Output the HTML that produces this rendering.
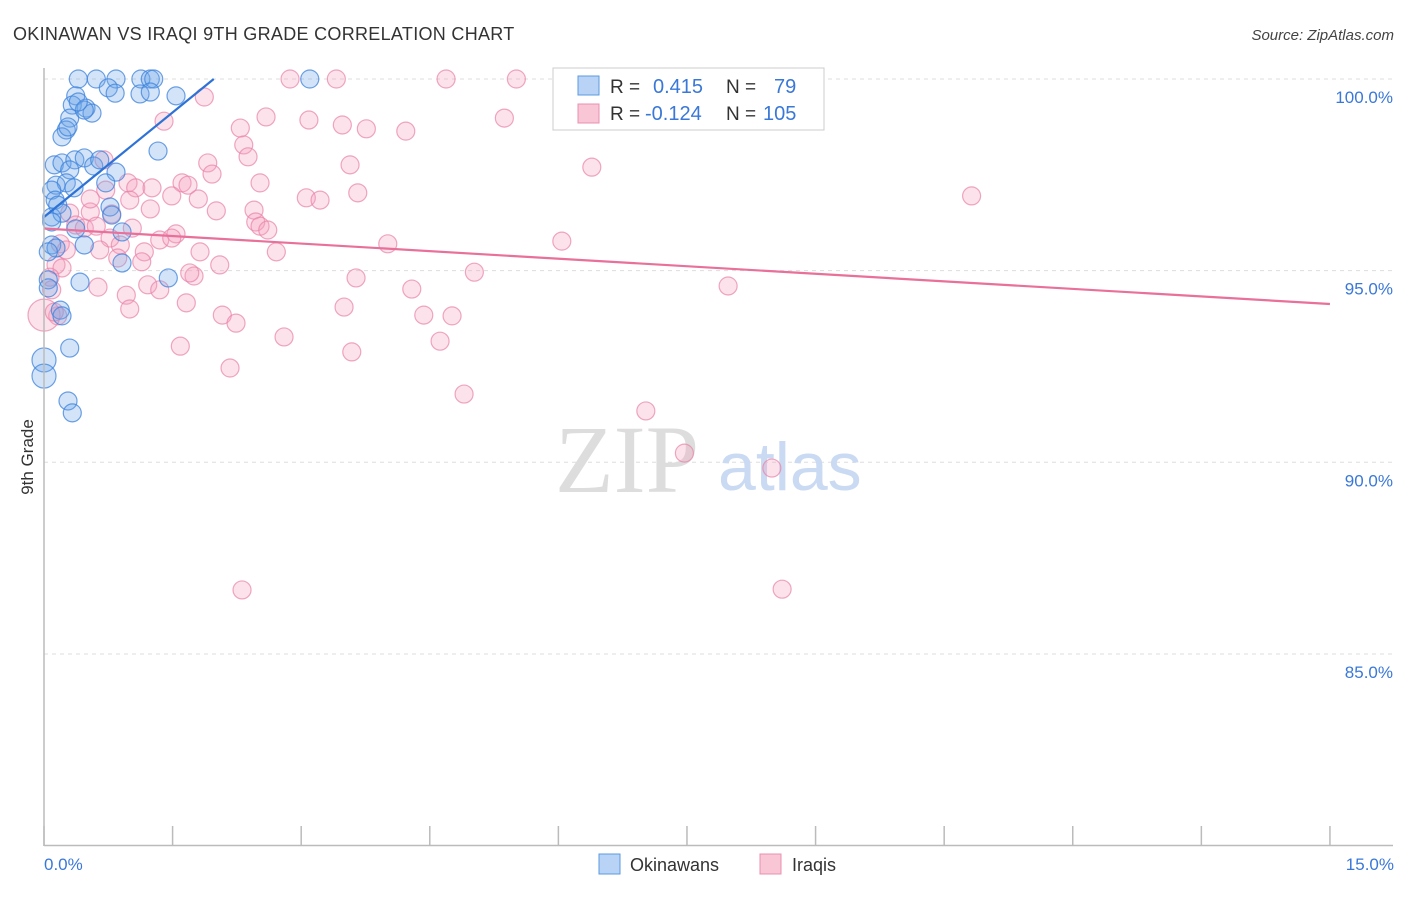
<!DOCTYPE html>
<html><head><meta charset="utf-8"><style>
body{margin:0;background:#fff;font-family:"Liberation Sans",sans-serif;}
</style></head><body>
<svg id="chart" width="1406" height="892" xmlns="http://www.w3.org/2000/svg" font-family="Liberation Sans, sans-serif">
<text x="13" y="40" font-size="18" fill="#333" letter-spacing="0.3">OKINAWAN VS IRAQI 9TH GRADE CORRELATION CHART</text>
<text x="1394" y="40" font-size="15" fill="#444" text-anchor="end" font-style="italic">Source: ZipAtlas.com</text>
<g id="grid"></g>
<text x="555" y="492" font-size="96" fill="#ddd" font-family="Liberation Serif, serif">ZIP</text>
<text x="718" y="490" font-size="68" fill="#c9daf2">atlas</text>
<g id="pts"></g>
<g id="lines"></g>
<line x1="44" y1="68" x2="44" y2="846" stroke="#bbb" stroke-width="1.5"/>
<line x1="44" y1="845.5" x2="1393" y2="845.5" stroke="#bbb" stroke-width="1.5"/>
<g id="ticks"></g>
<text transform="translate(33,457) rotate(-90)" font-size="17" fill="#333" text-anchor="middle">9th Grade</text>
<text x="44" y="870" font-size="17" fill="#3a78d8">0.0%</text>
<text x="1394" y="870" font-size="17" fill="#3a78d8" text-anchor="end">15.0%</text>
<g>
<rect x="553" y="68" width="271" height="62" fill="#fff" stroke="#ccc"/>
<rect x="578" y="76" width="21" height="19" fill="#b8d3f5" stroke="#5b9be0"/>
<rect x="578" y="104" width="21" height="19" fill="#f9c6d6" stroke="#e890b0"/>
<text x="610" y="93" font-size="19" fill="#333">R =</text><text x="653" y="93" font-size="20" fill="#3a78d8">0.415</text>
<text x="726" y="93" font-size="19" fill="#333">N =</text><text x="774" y="93" font-size="20" fill="#3a78d8">79</text>
<text x="610" y="120" font-size="19" fill="#333">R =</text><text x="645" y="120" font-size="20" fill="#3a78d8">-0.124</text>
<text x="726" y="120" font-size="19" fill="#333">N =</text><text x="763" y="120" font-size="20" fill="#3a78d8">105</text>
</g>
<g><rect x="599" y="854" width="21" height="20" fill="#b8d3f5" stroke="#5b9be0"/><text x="630" y="871" font-size="18" fill="#333">Okinawans</text></g>
<g><rect x="760" y="854" width="21" height="20" fill="#f9c6d6" stroke="#e890b0"/><text x="792" y="871" font-size="18" fill="#333">Iraqis</text></g>
</svg>
<script>
const yTicks=[100,95,90,85];
const yTickLabels=["100.0%","95.0%","90.0%","85.0%"];
const xTicks=[0,1.5,3,4.5,6,7.5,9,10.5,12,13.5,15];
const blueX=[0.40,0.61,0.84,1.13,1.24,1.28,3.10,0.75,0.83,1.12,1.24,1.54,0.37,0.33,0.49,0.56,0.30,0.26,0.21,0.28,1.33,0.12,0.21,0.36,0.47,0.30,0.58,0.84,0.14,0.26,0.09,0.72,0.35,0.13,0.16,0.09,0.21,0.77,0.79,0.09,0.37,0.91,0.09,0.14,0.47,0.05,0.91,1.45,0.42,0.05,0.05,0.19,0.21,0.30,0,0,0.28,0.33,0.47,0.40,0.65];
const blueY=[100,100,100,100,100,100,100,99.77,99.63,99.61,99.66,99.56,99.56,99.32,99.24,99.11,98.98,98.67,98.49,98.75,98.12,97.76,97.81,97.89,97.94,97.63,97.73,97.57,97.23,97.29,97.10,97.29,97.16,96.84,96.71,96.40,96.50,96.66,96.45,96.27,96.09,96.01,95.67,95.59,95.67,95.49,95.20,94.81,94.70,94.76,94.55,93.97,93.82,92.98,92.67,92.25,91.60,91.29,99.19,99.40,97.89];
const pinkX=[2.87,3.41,4.69,5.51,1.87,2.59,1.40,3.09,3.48,3.76,4.22,5.37,2.29,2.33,2.38,6.39,1.91,1.96,3.57,0.70,0.98,1.07,1.26,1.61,1.68,2.52,3.66,1.80,1.49,3.06,3.22,10.82,1.24,2.01,2.45,2.47,2.52,2.61,0.79,0.54,0.30,0.37,1.03,1.35,1.54,1.49,0.77,0.89,0.65,4.01,6.04,2.71,1.82,1.17,0.86,1.14,2.05,0.14,0.21,0.07,5.02,1.75,1.70,3.64,1.21,1.35,0.63,0.96,4.29,7.98,1.66,1.00,3.50,4.43,4.76,2.08,2.24,0.16,2.80,4.62,1.59,3.59,2.17,4.90,7.02,7.47,8.49,2.31,8.61,0,0.12,0.09,0.19,0.26,0.47,0.61,0.72,0.54,1.00];
const pinkY=[100,100,100,100,99.53,99.01,98.90,98.93,98.80,98.70,98.64,98.98,98.72,98.28,97.97,97.70,97.81,97.52,97.76,97.89,97.29,97.16,97.16,97.29,97.23,97.29,97.03,96.87,96.95,96.90,96.84,96.95,96.61,96.56,96.58,96.27,96.16,96.06,96.48,96.53,96.50,96.19,96.11,95.80,95.96,95.85,95.85,95.67,95.54,95.70,95.77,95.49,95.49,95.49,95.33,95.23,95.15,95.15,95.07,94.83,94.96,94.86,94.94,94.81,94.63,94.50,94.57,94.36,94.52,94.60,94.16,94.00,94.05,93.84,93.82,93.84,93.63,93.82,93.27,93.16,93.03,92.88,92.46,91.78,91.34,90.24,89.85,86.67,86.69,93.84,93.92,94.50,95.70,95.54,96.11,96.16,97.10,96.87,96.84];
const blueLine=[[0,96.4],[1.98,100]];
const pinkLine=[[0,96.1],[15,94.13]];
const xs=v=>44+v*85.73, ys=v=>79+(100-v)*38.33;
const NS="http://www.w3.org/2000/svg";
function mk(t,a,p){const e=document.createElementNS(NS,t);for(const k in a)e.setAttribute(k,a[k]);p.appendChild(e);return e;}
const grid=document.getElementById('grid'),ticks=document.getElementById('ticks'),pts=document.getElementById('pts'),lines=document.getElementById('lines');
yTicks.forEach((v,i)=>{
 const l=mk('line',{x1:44,x2:1393,y1:ys(v),y2:ys(v),stroke:'#ddd','stroke-dasharray':'4,4'},grid);
 
 
 const t=mk('text',{x:1393,y:ys(v)+24,'font-size':17,fill:'#3a78d8','text-anchor':'end'},ticks);
 t.textContent=yTickLabels[i];
 
 
});
xTicks.forEach(v=>{
 const l=mk('line',{x1:xs(v),x2:xs(v),y1:826,y2:846,stroke:'#bbb','stroke-width':1.5},ticks);
 
 
});
pinkX.forEach((x,i)=>{
 const c=mk('circle',{cx:xs(x),cy:ys(pinkY[i]),r:(x===0?16:9),fill:'rgba(244,160,188,0.3)',stroke:'rgba(232,130,168,0.7)','stroke-width':1.2},pts);
 
 
});
blueX.forEach((x,i)=>{
 const c=mk('circle',{cx:xs(x),cy:ys(blueY[i]),r:(x===0?12:9),fill:'rgba(110,165,232,0.3)',stroke:'rgba(60,130,220,0.75)','stroke-width':1.2},pts);
 
 
});
const bl=mk('line',{x1:xs(blueLine[0][0]),y1:ys(blueLine[0][1]),x2:xs(blueLine[1][0]),y2:ys(blueLine[1][1]),stroke:'#2d72d6','stroke-width':2.2},lines);


const pl=mk('line',{x1:xs(pinkLine[0][0]),y1:ys(pinkLine[0][1]),x2:xs(pinkLine[1][0]),y2:ys(pinkLine[1][1]),stroke:'#e8709a','stroke-width':2.2},lines);


</script>
</body></html>
